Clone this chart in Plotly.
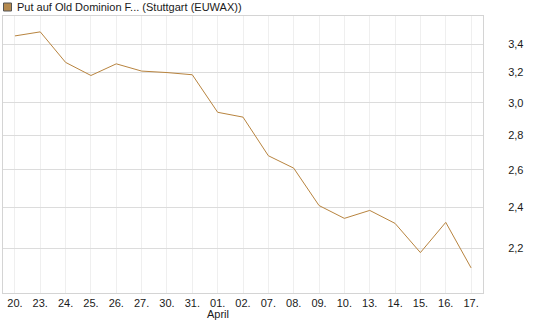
import math
import plotly.graph_objects as go

dates = ["20.", "23.", "24.", "25.", "26.", "27.", "30.", "31.", "01.", "02.",
         "07.", "08.", "09.", "10.", "13.", "14.", "15.", "16.", "17."]
values = [3.46, 3.49, 3.27, 3.18, 3.26, 3.21, 3.20, 3.185, 2.94, 2.91,
          2.68, 2.61, 2.41, 2.345, 2.385, 2.32, 2.18, 2.325, 2.11]
tick_labels = ["20.", "23.", "24.", "25.", "26.", "27.", "30.", "31.", "01.", "02.",
               "07.", "08.", "09.", "10.", "13.", "14.", "15.", "16.", "17."]
month_label = "April"
month_at = "01."
y_ticks = [2.2, 2.4, 2.6, 2.8, 3.0, 3.2, 3.4]
series_name = "Put auf Old Dominion F... (Stuttgart (EUWAX))"

LINE = "#b8843f"
FONT = "Liberation Sans, Arial, sans-serif"

fig = go.Figure()
fig.add_trace(go.Scatter(x=dates, y=values, mode="lines",
                         line=dict(color=LINE, width=1), showlegend=False,
                         hoverinfo="skip"))

fig.update_layout(
    width=545, height=327,
    margin=dict(l=3, r=62, t=16, b=34),
    paper_bgcolor="white", plot_bgcolor="white",
    separators=",.",
    font=dict(family=FONT, size=11, color="#1a1a1a"),
    showlegend=False,
    xaxis=dict(
        type="category", categoryorder="array", categoryarray=dates,
        tickvals=dates, ticktext=tick_labels,
        range=[-0.47, len(dates) - 0.53],
        showgrid=True, gridcolor="#efefef", gridwidth=1,
        showline=True, linecolor="#d4d4d4", linewidth=1, mirror=True,
        ticks="", tickfont=dict(size=11, color="#1a1a1a"),
        zeroline=False,
    ),
    yaxis=dict(
        type="log", side="right",
        range=[math.log10(2.0), math.log10(3.61)],
        tickvals=y_ticks, tickformat=".1f",
        showgrid=True, gridcolor="#dcdcdc", gridwidth=1,
        showline=True, linecolor="#d4d4d4", linewidth=1, mirror=True,
        ticks="", ticklabelstandoff=22,
        tickfont=dict(size=11, color="#1a1a1a"),
        zeroline=False,
    ),
)

# legend-like square and label at the top left
fig.add_shape(type="rect", xref="paper", yref="paper",
              xsizemode="pixel", ysizemode="pixel", xanchor=0, yanchor=1,
              x0=0.5, x1=8.5, y0=5, y1=13,
              fillcolor="#b58a4f", line=dict(color="#555", width=1))
fig.add_annotation(text=series_name, xref="paper", yref="paper",
                   x=0, y=1, xshift=12, yshift=9, xanchor="left", yanchor="middle",
                   showarrow=False, font=dict(family=FONT, size=11, color="#1a1a1a"))
# month label under its first day (category index, since "01." would parse as a number)
fig.add_annotation(text=month_label, xref="x", yref="paper",
                   x=dates.index(month_at), y=0, yshift=-21, xanchor="center", yanchor="middle",
                   showarrow=False, font=dict(family=FONT, size=11, color="#1a1a1a"))

fig.write_html("out.html")
